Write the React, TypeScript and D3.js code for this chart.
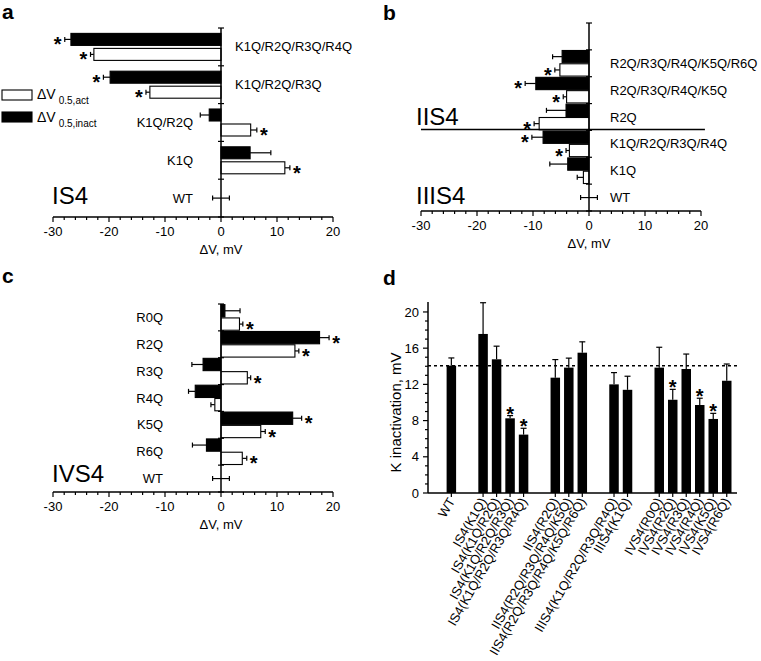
import React from "react";
import * as d3 from "d3";

const FONT = "'Liberation Sans', Arial, Helvetica, sans-serif";

// ---------- Panel a (IS4) ----------
const catsA = ["K1Q/R2Q/R3Q/R4Q", "K1Q/R2Q/R3Q", "K1Q/R2Q", "K1Q"];
const actA = [-22.7, -12.7, 5.3, 11.4];
const actErrA = [0.6, 0.7, 1.1, 0.9];
const actStarA = [true, true, true, true];
const inactA = [-26.8, -19.8, -2.1, 5.2];
const inactErrA = [1.1, 1.2, 1.6, 3.7];
const inactStarA = [true, true, false, false];

// ---------- Panel b (IIS4 / IIIS4) ----------
const catsB = ["R2Q/R3Q/R4Q/K5Q/R6Q", "R2Q/R3Q/R4Q/K5Q", "R2Q", "K1Q/R2Q/R3Q/R4Q", "K1Q"];
const actB = [-5.2, -4.0, -8.9, -3.5, -1.0];
const actErrB = [0.9, 0.6, 0.9, 0.6, 1.1];
const actStarB = [true, true, true, true, false];
const inactB = [-4.8, -9.5, -4.1, -8.2, -3.8];
const inactErrB = [1.7, 1.9, 3.5, 2.0, 3.2];
const inactStarB = [false, true, false, true, false];

// ---------- Panel c (IVS4) ----------
const catsC = ["R0Q", "R2Q", "R3Q", "R4Q", "K5Q", "R6Q"];
const actC = [3.3, 13.2, 4.7, -1.1, 7.1, 3.8];
const actErrC = [0.6, 0.7, 0.6, 0.7, 0.8, 0.8];
const actStarC = [true, true, true, false, true, true];
const inactC = [0.7, 17.6, -3.2, -4.6, 12.8, -2.6];
const inactErrC = [2.7, 1.7, 2.0, 1.2, 1.6, 2.5];
const inactStarC = [false, true, false, false, true, false];

const wtErr = 1.5;
const xTicksHoriz = [-30, -20, -10, 0, 10, 20];

// ---------- Panel d ----------
const labelsD = [
  "WT",
  "IS4(K1Q)", "IS4(K1Q/R2Q)", "IS4(K1Q/R2Q/R3Q)", "IS4(K1Q/R2Q/R3Q/R4Q)",
  "IIS4(R2Q)", "IIS4(R2Q/R3Q/R4Q/K5Q)", "IIS4(R2Q/R3Q/R4Q/K5Q/R6Q)",
  "IIIS4(K1Q/R2Q/R3Q/R4Q)", "IIIS4(K1Q)",
  "IVS4(R0Q)", "IVS4(R2Q)", "IVS4(R3Q)", "IVS4(R4Q)", "IVS4(K5Q)", "IVS4(R6Q)",
];
const groupD = [0, 1, 1, 1, 1, 2, 2, 2, 3, 3, 4, 4, 4, 4, 4, 4];
const valuesD = [14.07, 17.57, 14.77, 8.25, 6.45, 12.74, 13.85, 15.5, 12.0, 11.4, 13.85, 10.3, 13.7, 9.72, 8.18, 12.4];
const errD = [0.85, 3.45, 1.45, 0.3, 0.7, 2.0, 1.05, 1.2, 1.3, 1.5, 2.25, 1.15, 1.65, 0.75, 0.62, 1.85];
const starD = [false, false, false, true, true, false, false, false, false, false, false, true, false, true, true, false];
const yTicksD = [0, 4, 8, 12, 16, 20];
const refLineD = 14.07;

type HProps = {
  cats: string[];
  act: number[];
  actErr: number[];
  actStar: boolean[];
  inact: number[];
  inactErr: number[];
  inactStar: boolean[];
  blankTop: number;
  xRange: [number, number];
  yRange: [number, number];
  barH: number;
  gap: number;
  labelSide: (i: number) => "left" | "right";
  labelLeftEnd: number;
  labelRightStart: number;
  bigLabelX: number;
  bigLabels: { text: string; y: number }[];
  separatorBefore?: string;
};

function Star({ x, y }: { x: number; y: number }) {
  return (
    <text x={x} y={y + 12} fontSize={20} fontWeight="bold" textAnchor="middle" fontFamily={FONT}>
      *
    </text>
  );
}

function HPanel(p: HProps) {
  const x = d3.scaleLinear().domain([-30, 20]).range(p.xRange);
  const blanks = d3.range(p.blankTop).map((i) => `__blank${i}`);
  const domain = [...blanks, ...p.cats, "WT"];
  const y = d3.scaleBand<string>().domain(domain).range(p.yRange).paddingInner(0).paddingOuter(0);
  const bw = y.bandwidth();
  const x0 = x(0);
  const axisY = p.yRange[1];
  const minor = d3.range(-30, 20.001, 2);
  const boundaries = [...domain.map((c) => y(c) as number), p.yRange[1]];

  const bar = (v: number, e: number, star: boolean, top: number, fill: string, key: string) => {
    const xs = x(v);
    const xe = x(v + Math.sign(v) * e);
    const cy = top + p.barH / 2;
    const dir = Math.sign(v) || 1;
    return (
      <g key={key}>
        <line x1={xs} x2={xe} y1={cy} y2={cy} stroke="#000" strokeWidth={1.2} />
        <line x1={xe} x2={xe} y1={cy - 2.5} y2={cy + 2.5} stroke="#000" strokeWidth={1.2} />
        <rect
          x={Math.min(xs, x0)}
          y={top}
          width={Math.abs(xs - x0)}
          height={p.barH}
          fill={fill}
          stroke="#000"
          strokeWidth={1.1}
        />
        {star && <Star x={xe + dir * 7} y={cy} />}
      </g>
    );
  };

  const inner = p.barH * 2 + p.gap;
  const wtCy = (y("WT") as number) + bw / 2;

  return (
    <g fontFamily={FONT}>
      {p.cats.map((c, i) => {
        const top = (y(c) as number) + (bw - inner) / 2;
        return (
          <g key={c}>
            {bar(p.inact[i], p.inactErr[i], p.inactStar[i], top, "#000", "i")}
            {bar(p.act[i], p.actErr[i], p.actStar[i], top + p.barH + p.gap, "#fff", "a")}
          </g>
        );
      })}
      {/* WT */}
      <line x1={x(-wtErr)} x2={x(wtErr)} y1={wtCy} y2={wtCy} stroke="#000" strokeWidth={1.2} />
      <line x1={x(-wtErr)} x2={x(-wtErr)} y1={wtCy - 2.5} y2={wtCy + 2.5} stroke="#000" strokeWidth={1.2} />
      <line x1={x(wtErr)} x2={x(wtErr)} y1={wtCy - 2.5} y2={wtCy + 2.5} stroke="#000" strokeWidth={1.2} />

      {/* category labels */}
      {[...p.cats, "WT"].map((c, i) => {
        const side = c === "WT" ? p.labelSide(p.cats.length) : p.labelSide(i);
        return (
          <text
            key={c}
            x={side === "left" ? p.labelLeftEnd : p.labelRightStart}
            y={(y(c) as number) + bw / 2}
            dy="0.35em"
            fontSize={13}
            textAnchor={side === "left" ? "end" : "start"}
          >
            {c}
          </text>
        );
      })}

      {/* y axis (at zero) */}
      <line x1={x0} x2={x0} y1={p.yRange[0]} y2={p.yRange[1]} stroke="#000" strokeWidth={1.5} />
      {boundaries.map((b, i) => (
        <line key={i} x1={x0 - 3} x2={x0 + 3} y1={b} y2={b} stroke="#000" strokeWidth={1.2} />
      ))}

      {/* x axis */}
      <line x1={x(-30)} x2={x(20)} y1={axisY} y2={axisY} stroke="#000" strokeWidth={1.5} />
      {minor.map((t) => {
        const major = Math.abs(t % 10) < 1e-6;
        return (
          <line key={t} x1={x(t)} x2={x(t)} y1={axisY} y2={axisY + (major ? 5 : 3)} stroke="#000" strokeWidth={1.2} />
        );
      })}
      {xTicksHoriz.map((t) => (
        <text key={t} x={x(t)} y={axisY + 19} fontSize={13} textAnchor="middle">
          {t}
        </text>
      ))}
      <text x={x0} y={axisY + 37} fontSize={13} textAnchor="middle">
        ΔV, mV
      </text>

      {p.separatorBefore && (
        <line
          x1={x(-30)}
          x2={x(20.7)}
          y1={(y(p.separatorBefore) as number) - 1}
          y2={(y(p.separatorBefore) as number) - 1}
          stroke="#000"
          strokeWidth={1.5}
        />
      )}

      {p.bigLabels.map((b) => (
        <text key={b.text} x={p.bigLabelX} y={b.y} fontSize={24}>
          {b.text}
        </text>
      ))}
    </g>
  );
}

function PanelD() {
  const pos = labelsD.map((_, i) => i + groupD[i] * 1.35);
  const x = d3.scaleLinear().domain([-1.73, 21.16]).range([428, 737]);
  const y = d3.scaleLinear().domain([0, 21.1]).range([493, 302]);
  const bw = 9.5;
  const minorY = d3.range(0, 20.001, 1);
  return (
    <g fontFamily={FONT}>
      {valuesD.map((v, i) => {
        const cx = x(pos[i]);
        const et = y(v + errD[i]);
        return (
          <g key={i}>
            <line x1={cx} x2={cx} y1={y(v)} y2={et} stroke="#000" strokeWidth={1.2} />
            <line x1={cx - 3} x2={cx + 3} y1={et} y2={et} stroke="#000" strokeWidth={1.2} />
            <rect x={cx - bw / 2} y={y(v)} width={bw} height={y(0) - y(v)} fill="#000" />
            {starD[i] && <Star x={cx} y={et - 7} />}
          </g>
        );
      })}
      <line
        x1={x.range()[0]}
        x2={x.range()[1]}
        y1={y(refLineD)}
        y2={y(refLineD)}
        stroke="#000"
        strokeWidth={1.5}
        strokeDasharray="3,3"
      />
      {/* axes */}
      <line x1={428} x2={428} y1={y(21.1)} y2={y(0)} stroke="#000" strokeWidth={1.5} />
      {minorY.map((t) => {
        const major = t % 4 === 0;
        return <line key={t} x1={428 - (major ? 5 : 3)} x2={428} y1={y(t)} y2={y(t)} stroke="#000" strokeWidth={1.2} />;
      })}
      {yTicksD.map((t) => (
        <text key={t} x={419} y={y(t)} dy="0.35em" fontSize={13} textAnchor="end">
          {t}
        </text>
      ))}
      <line x1={x.range()[0]} x2={x.range()[1]} y1={y(0)} y2={y(0)} stroke="#000" strokeWidth={1.5} />
      {pos.map((p, i) => (
        <line key={i} x1={x(p)} x2={x(p)} y1={y(0)} y2={y(0) + 4} stroke="#000" strokeWidth={1.2} />
      ))}
      {labelsD.map((l, i) => (
        <text
          key={l}
          transform={`translate(${x(pos[i]) + 4},${y(0) + 8}) rotate(-60)`}
          fontSize={13}
          textAnchor="end"
        >
          {l}
        </text>
      ))}
      <text transform={`translate(396,${y(8.9)}) rotate(-90)`} fontSize={15} textAnchor="middle" dy="0.35em">
        K inactivation, mV
      </text>
    </g>
  );
}

export default function App() {
  return (
    <svg
      width={761}
      height={661}
      viewBox="0 0 761 661"
      style={{ position: "absolute", left: 0, top: 0, background: "#fff" }}
    >
      <rect width={761} height={661} fill="#fff" />
      {/* panel letters */}
      <g fontFamily={FONT} fontWeight="bold" fontSize={21}>
        <text x={2} y={19}>a</text>
        <text x={383} y={20}>b</text>
        <text x={2} y={283}>c</text>
        <text x={383} y={285}>d</text>
      </g>

      <HPanel
        cats={catsA}
        act={actA}
        actErr={actErrA}
        actStar={actStarA}
        inact={inactA}
        inactErr={inactErrA}
        inactStar={inactStarA}
        blankTop={0}
        xRange={[53, 333]}
        yRange={[28, 217]}
        barH={12}
        gap={3}
        labelSide={(i) => (i < 2 ? "right" : "left")}
        labelLeftEnd={193}
        labelRightStart={235}
        bigLabelX={52}
        bigLabels={[{ text: "IS4", y: 204 }]}
      />

      {/* legend */}
      <g fontFamily={FONT}>
        <rect x={2} y={90} width={30} height={10} fill="#fff" stroke="#000" strokeWidth={1.1} />
        <rect x={2} y={112} width={30} height={10} fill="#000" stroke="#000" strokeWidth={1.1} />
        <text x={37} y={99} fontSize={14}>
          ΔV<tspan dx={3} dy={5} fontSize={10}>0.5,act</tspan>
        </text>
        <text x={37} y={122} fontSize={14}>
          ΔV<tspan dx={3} dy={5} fontSize={10}>0.5,inact</tspan>
        </text>
      </g>

      <HPanel
        cats={catsB}
        act={actB}
        actErr={actErrB}
        actStar={actStarB}
        inact={inactB}
        inactErr={inactErrB}
        inactStar={inactStarB}
        blankTop={1}
        xRange={[421, 701]}
        yRange={[23, 211]}
        barH={12.3}
        gap={1}
        labelSide={() => "right"}
        labelLeftEnd={560}
        labelRightStart={610}
        bigLabelX={416}
        bigLabels={[
          { text: "IIS4", y: 125 },
          { text: "IIIS4", y: 204 },
        ]}
        separatorBefore="K1Q/R2Q/R3Q/R4Q"
      />

      <HPanel
        cats={catsC}
        act={actC}
        actErr={actErrC}
        actStar={actStarC}
        inact={inactC}
        inactErr={inactErrC}
        inactStar={inactStarC}
        blankTop={0}
        xRange={[53, 333]}
        yRange={[304, 492]}
        barH={12.3}
        gap={1}
        labelSide={() => "left"}
        labelLeftEnd={163}
        labelRightStart={235}
        bigLabelX={52}
        bigLabels={[{ text: "IVS4", y: 482 }]}
      />

      <PanelD />
    </svg>
  );
}
